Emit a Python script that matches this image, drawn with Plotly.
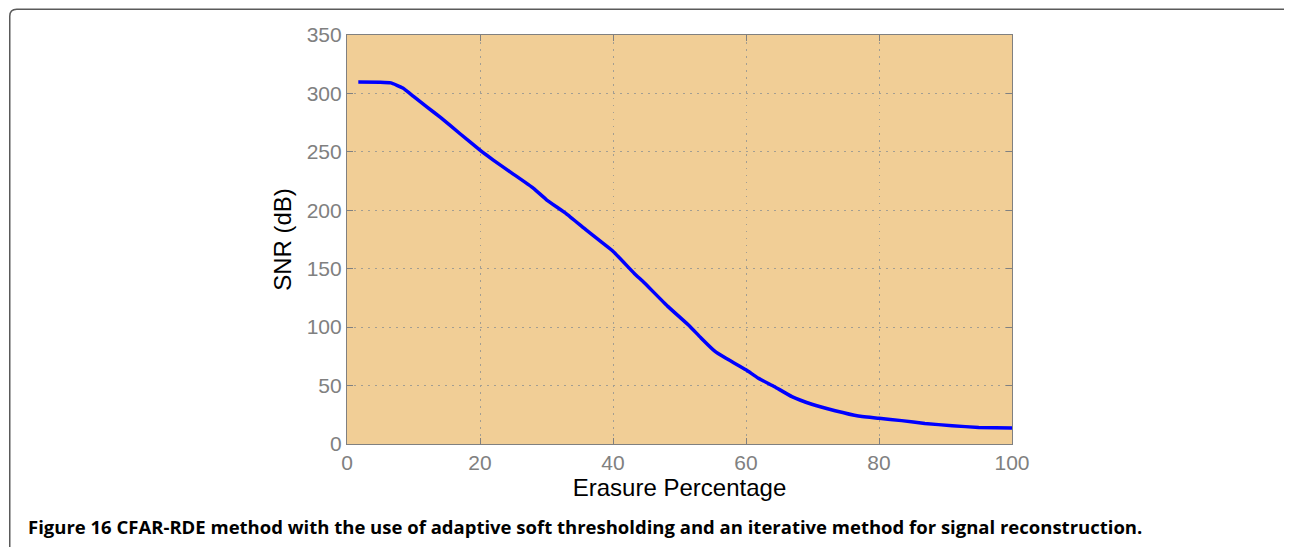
import plotly.graph_objects as go

# Data
erasure_pct = [1.7, 5, 6.6, 8.4, 10, 12, 14.1, 17, 20, 22, 25, 28, 30, 33, 36, 38, 40,
               43.2, 44.7, 48.2, 51.5, 53.2, 55.3, 56.8, 60, 61.8, 64.3, 66.9, 69.9,
               73.4, 76.9, 80, 83.4, 86.9, 91, 95, 100]
snr_db = [309.7, 309.6, 309, 304.6, 297.5, 288.5, 279.3, 265.5, 251.5, 243, 231, 219, 209,
          197, 183, 174, 165, 146, 138, 118, 101, 91, 79.5, 74, 63.5, 56.5, 49, 40.5,
          34, 28.5, 24, 22, 20, 17.6, 15.6, 14.2, 13.6]

x_ticks = [0, 20, 40, 60, 80, 100]
y_ticks = [0, 50, 100, 150, 200, 250, 300, 350]

caption_bold = "Figure 16"
caption_text = ("CFAR-RDE method with the use of adaptive soft thresholding and an "
                "iterative method for signal reconstruction.")

# the page body adds an 8px offset, so the figure coordinates are shifted by -8
OFF = 8
W, H = 1292 - OFF, 547 - OFF
L, R, T, B = 346.5 - OFF, 1012.5 - OFF, 34.5 - OFF, 444.3 - OFF


def px_x(p):
    return (p - OFF - L) / (R - L)


def px_y(p):
    return (B - (p - OFF)) / (B - T)


fig = go.Figure()
fig.add_trace(go.Scatter(x=erasure_pct, y=snr_db, mode="lines",
                         line=dict(color="#0000FF", width=3.5, shape="spline", smoothing=0.3),
                         showlegend=False, hoverinfo="skip"))

axis_common = dict(
    showline=True, linecolor="#808080", linewidth=1.2, mirror="allticks",
    ticks="inside", ticklen=6, tickcolor="#808080", tickwidth=1,
    showgrid=True, gridcolor="#a39e92", griddash="1.5px,5.5px", gridwidth=1.3,
    zeroline=False,
    tickfont=dict(family="Liberation Sans, Arial, sans-serif", size=21, color="#808080"),
)

fig.update_xaxes(range=[0, 100], tickvals=x_ticks,
                 title=dict(text="Erasure Percentage", standoff=3,
                            font=dict(family="Liberation Sans, Arial, sans-serif", size=24, color="#000000")),
                 **axis_common)
fig.update_yaxes(range=[0, 350], tickvals=y_ticks,
                 title=dict(text="SNR (dB)", standoff=8,
                            font=dict(family="Liberation Sans, Arial, sans-serif", size=24, color="#000000")),
                 **axis_common)

# rounded border frame around the figure
x0, x1 = px_x(8.75), px_x(1291)
y0, y1 = px_y(8.75), px_y(570)
rx, ry = 7 / (R - L), 7 / (B - T)
path = (f"M {x0},{y1} L {x0},{y0 - ry} Q {x0},{y0} {x0 + rx},{y0} "
        f"L {x1 - rx},{y0} Q {x1},{y0} {x1},{y0 - ry} L {x1},{y1}")
fig.add_shape(type="path", path=path, xref="paper", yref="paper",
              line=dict(color="#5a5a5a", width=1.5), layer="above")

fig.add_annotation(x=px_x(25), y=px_y(527), xref="paper", yref="paper",
                   xanchor="left", yanchor="middle", showarrow=False,
                   text=f"<b>{caption_bold}</b> <b>{caption_text}</b>",
                   font=dict(family="Open Sans, Noto Sans, sans-serif", size=18.5, color="#000000"))

fig.update_layout(
    width=W, height=H,
    margin=dict(l=L, r=W - R, t=T, b=H - B, autoexpand=False),
    plot_bgcolor="#F1CE96", paper_bgcolor="#FFFFFF",
)

fig.write_html("out.html")
